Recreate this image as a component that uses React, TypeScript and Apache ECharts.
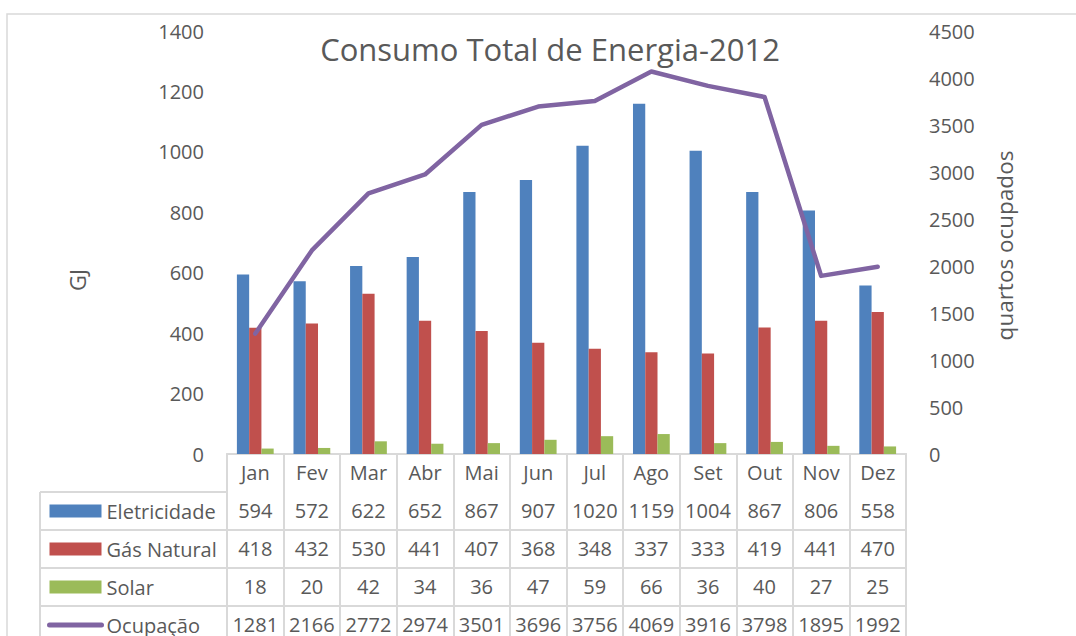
import React, { useEffect, useRef } from "react";
import * as echarts from "echarts";

// ---- data ----
const months = ["Jan", "Fev", "Mar", "Abr", "Mai", "Jun", "Jul", "Ago", "Set", "Out", "Nov", "Dez"];
const eletricidade = [594, 572, 622, 652, 867, 907, 1020, 1159, 1004, 867, 806, 558];
const gasNatural = [418, 432, 530, 441, 407, 368, 348, 337, 333, 419, 441, 470];
const solar = [18, 20, 42, 34, 36, 47, 59, 66, 36, 40, 27, 25];
const ocupacao = [1281, 2166, 2772, 2974, 3501, 3696, 3756, 4069, 3916, 3798, 1895, 1992];
const seriesNames = ["Eletricidade", "Gás Natural", "Solar", "Ocupação"];
const leftAxis = { min: 0, max: 1400, interval: 200, name: "GJ" };
const rightAxis = { min: 0, max: 4500, interval: 500, name: "quartos ocupados" };
const titleText = "Consumo Total de Energia-2012";

// ---- style ----
const COLORS = ["#4F81BD", "#C0504D", "#9BBB59", "#8064A2"];
const TEXT = "#595959";
const BORDER = "#d9d9d9";
const FONT = "'Open Sans', 'Noto Sans', sans-serif";
const W = 1076;
const H = 636;
const G_LEFT = 227;
const G_RIGHT = 170;
const G_TOP = 31;
const G_BOTTOM = 182;
const ROW = 38;
const LEG_LEFT = 40;

export default function App() {
  const ref = useRef<HTMLDivElement>(null);
  useEffect(() => {
    if (!ref.current) return;
    const chart = echarts.init(ref.current, undefined, { renderer: "svg" });
    const axisY = H - G_BOTTOM;
    const tableRows = [eletricidade, gasNatural, solar, ocupacao];
    const labelStyle = { fontSize: 20, color: TEXT, lineHeight: 20, margin: 8, interval: 0, fontFamily: FONT };
    const lineStyle = { color: BORDER, width: 2 };
    const plain = (v: number) => String(v);

    const xAxes: any[] = [
      {
        type: "category",
        data: months,
        position: "bottom",
        axisLine: { show: true, lineStyle },
        axisTick: { show: true, length: 200, lineStyle },
        axisLabel: labelStyle,
        splitLine: { show: false },
      },
      ...tableRows.map((vals, i) => ({
        type: "category",
        data: vals.map((v) => String(v)),
        position: "bottom",
        offset: ROW * (i + 1),
        axisLine: { show: true, lineStyle },
        axisTick: { show: false },
        axisLabel: labelStyle,
        splitLine: { show: false },
      })),
    ];

    const graphics: any[] = [
      {
        type: "rect",
        silent: true,
        shape: { x: 7, y: 14, width: 1200, height: 800 },
        style: { fill: "none", stroke: BORDER, lineWidth: 1.5 },
      },
      {
        type: "text",
        x: 550,
        y: 49,
        silent: true,
        style: {
          text: titleText,
          fontSize: 31,
          fontFamily: FONT,
          fill: TEXT,
          align: "center",
          verticalAlign: "middle",
        },
      },
      {
        type: "line",
        silent: true,
        shape: { x1: LEG_LEFT, y1: axisY + ROW, x2: LEG_LEFT, y2: H + 20 },
        style: { stroke: BORDER, lineWidth: 2 },
      },
      ...[1, 2, 3, 4].map((i) => ({
        type: "line",
        silent: true,
        shape: { x1: LEG_LEFT, y1: axisY + ROW * i, x2: G_LEFT, y2: axisY + ROW * i },
        style: { stroke: BORDER, lineWidth: 2 },
      })),
    ];

    chart.setOption({
      animation: false,
      textStyle: { fontFamily: FONT },
      grid: {
        left: G_LEFT,
        right: G_RIGHT,
        top: G_TOP,
        bottom: G_BOTTOM,
        containLabel: false,
        outerBoundsMode: "none",
      },
      legend: {
        orient: "vertical",
        left: 47,
        top: axisY + ROW + 9,
        height: 220,
        padding: 0,
        itemGap: 18,
        itemWidth: 52,
        itemHeight: 13,
        selectedMode: false,
        textStyle: { fontSize: 20, color: TEXT, lineHeight: 20, fontFamily: FONT },
        data: [
          { name: seriesNames[0], icon: "rect" },
          { name: seriesNames[1], icon: "rect" },
          { name: seriesNames[2], icon: "rect" },
          {
            name: seriesNames[3],
            itemStyle: { opacity: 0 },
            lineStyle: { width: 5, cap: "round", color: COLORS[3] },
          },
        ],
      },
      xAxis: xAxes,
      yAxis: [
        {
          type: "value",
          position: "left",
          min: leftAxis.min,
          max: leftAxis.max,
          interval: leftAxis.interval,
          axisLine: { show: false },
          axisTick: { show: false },
          splitLine: { show: false },
          axisLabel: { fontSize: 20, color: TEXT, margin: 23, fontFamily: FONT, formatter: plain },
          name: leftAxis.name,
          nameLocation: "middle",
          nameGap: 139,
          nameTextStyle: { fontSize: 22, color: TEXT, fontFamily: FONT, padding: [0, 75, 0, 0] },
        },
        {
          type: "value",
          position: "right",
          min: rightAxis.min,
          max: rightAxis.max,
          interval: rightAxis.interval,
          axisLine: { show: false },
          axisTick: { show: false },
          splitLine: { show: false },
          axisLabel: { fontSize: 20, color: TEXT, margin: 23, fontFamily: FONT, formatter: plain },
          name: rightAxis.name,
          nameLocation: "middle",
          nameGap: 87,
          nameTextStyle: { fontSize: 22.5, color: TEXT, fontFamily: FONT, padding: [0, 6, 0, 0] },
        },
      ],
      graphic: graphics,
      series: [
        {
          name: seriesNames[0],
          type: "bar",
          data: eletricidade,
          itemStyle: { color: COLORS[0] },
          barGap: "0%",
          barCategoryGap: "35%",
        },
        {
          name: seriesNames[1],
          type: "bar",
          data: gasNatural,
          itemStyle: { color: COLORS[1] },
          barGap: "0%",
          barCategoryGap: "35%",
        },
        {
          name: seriesNames[2],
          type: "bar",
          data: solar,
          itemStyle: { color: COLORS[2] },
          barGap: "0%",
          barCategoryGap: "35%",
        },
        {
          name: seriesNames[3],
          type: "line",
          yAxisIndex: 1,
          data: ocupacao,
          symbol: "none",
          z: 5,
          lineStyle: { color: COLORS[3], width: 4.5, cap: "round", join: "round" },
          itemStyle: { color: COLORS[3] },
        },
      ],
    });
    return () => chart.dispose();
  }, []);
  return (
    <div
      ref={ref}
      style={{ position: "absolute", left: 0, top: 0, width: W, height: H, background: "#fff" }}
    />
  );
}
